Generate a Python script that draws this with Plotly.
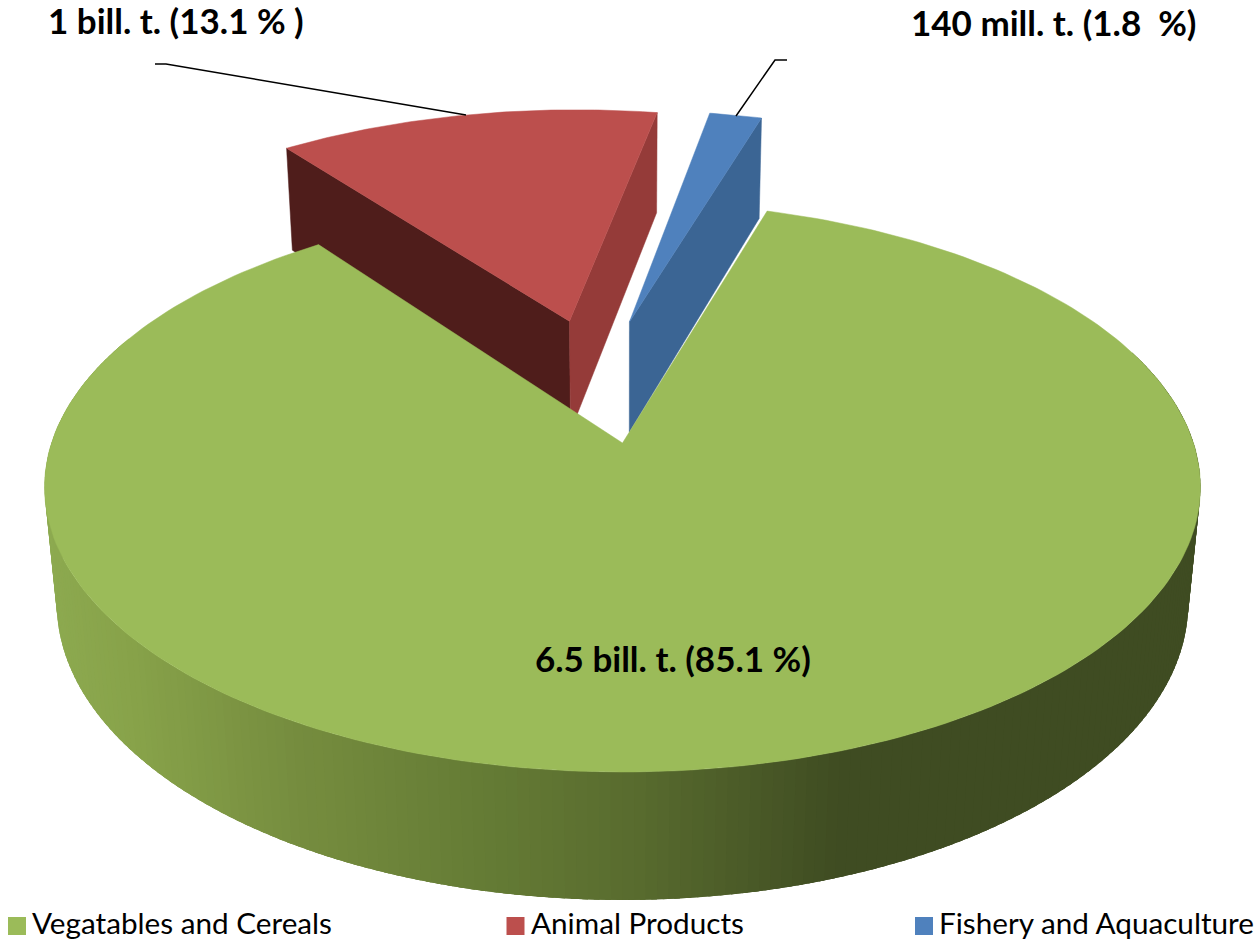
import numpy as np
import plotly.graph_objects as go

# ---- data ----
categories = ["Vegatables and Cereals", "Animal Products", "Fishery and Aquaculture"]
shares = [85.1, 13.1, 1.8]
data_labels = ["6.5 bill. t. (85.1 %)", "1 bill. t. (13.1 % )", "140 mill. t. (1.8  %)"]

# ---- style / layout ----
W, H = 1256, 940
FONT = "Lato"
TOP = ["#9bbb59", "#bc4f4d", "#4f81bd"]
CUT = [None, "#953b39", "#3b6594"]
CUT_DARK = "#4f1d1b"
START_DEG = 16.9
WEDGE_TURN = -0.4
EXPLODE = [(0.0, 0.0), (-0.0996, 0.4695), (0.013, 0.4665)]
CX, CY, A, B, K, D, M = 622.5, 443.0, 571.0, 278.2, 0.1544, 117.8, 0.021
GRAD_X = [45, 130, 300, 480, 640, 850, 1200]
GRAD_RGB = [(141, 170, 80), (136, 163, 74), (118, 141, 63), (102, 125, 54),
            (89, 108, 47), (63, 76, 34), (63, 76, 34)]


def project(u, v, z=0.0):
    w = 1 + K * v + M * z
    return CX + A * u / w, CY + (-B * v + D * z) / w


def sector(a0, a1, off, n=80):
    t = np.radians(np.linspace(a0, a1, n))
    x, y = project(off[0] + np.sin(t), off[1] + np.cos(t))
    ax, ay = project(off[0], off[1])
    return [ax, *x, ax], [ay, *y, ay]


def cut_face(angle, off):
    t = np.radians(angle)
    pts = [(off[0], off[1], 0), (off[0] + np.sin(t), off[1] + np.cos(t), 0),
           (off[0] + np.sin(t), off[1] + np.cos(t), 1), (off[0], off[1], 1)]
    xy = [project(*p) for p in pts]
    return [p[0] for p in xy] + [xy[0][0]], [p[1] for p in xy] + [xy[0][1]]


def poly(x, y, color, name):
    return go.Scatter(x=list(x), y=list(y), mode="lines", fill="toself", fillcolor=color,
                      line=dict(color=color, width=0.5), hoverinfo="skip",
                      showlegend=False, name=name)


degs = np.array(shares) * 3.6
edges = START_DEG + np.concatenate([[0], np.cumsum(degs)])
fig = go.Figure()

# green outer wall, shaded by position; painted in order, each strip overlapping the last
wall = np.arange(70, 292, 1.0)
for a0 in wall:
    arc = np.radians(np.linspace(a0, a0 + 2.5, 4))
    xt, yt = project(np.sin(arc), np.cos(arc))
    xb, yb = project(np.sin(arc), np.cos(arc), 1)
    mid = xt[0]
    c = [int(np.interp(mid, GRAD_X, [g[i] for g in GRAD_RGB])) for i in range(3)]
    col = f"rgb({c[0]},{c[1]},{c[2]})"
    fig.add_trace(go.Scatter(x=[*xt, *xb[::-1], xt[0]], y=[*yt, *yb[::-1], yt[0]], mode="lines",
                             fill="toself", fillcolor=col, line=dict(width=0),
                             hoverinfo="skip", showlegend=False, name="wall"))

# side faces of the pulled-out wedges lie behind the green top
fig.add_trace(poly(*cut_face(edges[1] + WEDGE_TURN, EXPLODE[1]), CUT_DARK, "cut"))
fig.add_trace(poly(*cut_face(edges[2] + WEDGE_TURN, EXPLODE[1]), CUT[1], "cut"))
fig.add_trace(poly(*cut_face(edges[3] + WEDGE_TURN, EXPLODE[2]), CUT[2], "cut"))

# tops
fig.add_trace(poly(*sector(edges[0], edges[1], EXPLODE[0], 260), TOP[0], categories[0]))
fig.add_trace(poly(*sector(edges[1] + WEDGE_TURN, edges[2] + WEDGE_TURN, EXPLODE[1]), TOP[1], categories[1]))
fig.add_trace(poly(*sector(edges[2] + WEDGE_TURN, edges[3] + WEDGE_TURN, EXPLODE[2], 20), TOP[2], categories[2]))

# leader lines
for lx, ly in (([155, 166, 466], [64, 64, 115]), ([787, 775, 736], [60, 60, 116])):
    fig.add_trace(go.Scatter(x=lx, y=ly, mode="lines", line=dict(color="black", width=1.5),
                             hoverinfo="skip", showlegend=False))

# legend row
for name, col, mx in zip(categories, TOP, [17, 515.5, 924]):
    fig.add_trace(go.Scatter(x=[mx], y=[926], mode="markers",
                             marker=dict(symbol="square", size=18, color=col),
                             hoverinfo="skip", showlegend=False, cliponaxis=False))
    fig.add_annotation(x=mx + 13, y=922, text=name, showarrow=False, xanchor="left", yanchor="middle",
                       font=dict(family=FONT, size=29.7, color="black"))

for text, lx, ly in zip(data_labels, [673, 176, 1053], [658, 20, 22]):
    fig.add_annotation(x=lx, y=ly, text=f"<b>{text}</b>", showarrow=False,
                       font=dict(family=FONT, size=35, color="black"))

fig.update_layout(width=W, height=H, margin=dict(l=0, r=0, t=0, b=0), autosize=False,
                  paper_bgcolor="white", plot_bgcolor="white", showlegend=False,
                  xaxis=dict(range=[0, W], visible=False, fixedrange=True),
                  yaxis=dict(range=[H, 0], visible=False, fixedrange=True))
fig.write_html("out.html", config={"displayModeBar": False},
               post_script="document.body.style.margin='0';document.body.style.overflow='hidden';")
